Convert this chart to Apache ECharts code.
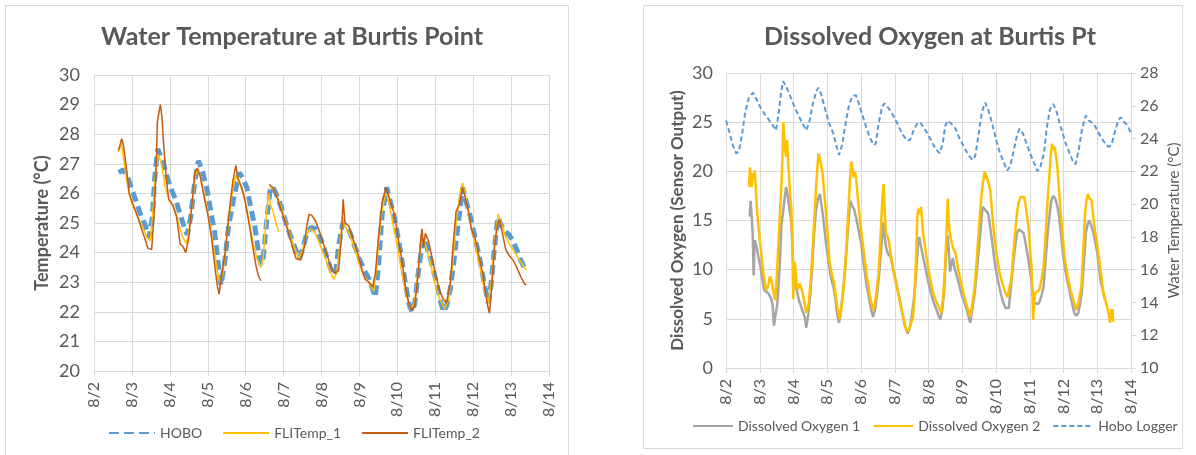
<!DOCTYPE html>
<html>
<head>
<meta charset="utf-8">
<script src="https://cdn.jsdelivr.net/npm/echarts@6/dist/echarts.min.js"></script>
<style>
html,body{margin:0;padding:0;background:#fff;}
#c{width:1196px;height:455px;}
</style>
</head>
<body>
<div id="c"></div>
<script>
// ---------- data ----------
const xTickLabels = ['8/2','8/3','8/4','8/5','8/6','8/7','8/8','8/9','8/10','8/11','8/12','8/13','8/14'];
// x values = day of August (fractional)
const hoboLeft = [[2.65,26.7],[2.78,26.8],[2.9,26.5],[3.01,26.1],[3.12,25.7],[3.21,25.35],[3.36,24.9],[3.45,24.5],[3.54,25.2],[3.6,26.5],[3.68,27.5],[3.81,27.1],[3.92,26.6],[4.02,26.2],[4.15,25.8],[4.27,25.3],[4.37,24.9],[4.46,24.6],[4.55,25.2],[4.64,26.2],[4.75,27.1],[4.85,26.8],[4.97,26.2],[5.08,25.4],[5.18,24.7],[5.27,23.7],[5.35,22.9],[5.45,23.7],[5.55,24.9],[5.68,25.8],[5.83,26.7],[5.93,26.5],[6.03,26.2],[6.14,25.5],[6.24,24.9],[6.33,24.1],[6.4,23.6],[6.46,23.8],[6.55,25.0],[6.65,26.2],[6.72,26.2],[6.8,26.0],[6.92,25.6],[7.04,25.1],[7.17,24.6],[7.29,24.2],[7.42,23.8],[7.5,24.1],[7.6,24.6],[7.72,24.85],[7.85,24.8],[7.97,24.5],[8.1,24.0],[8.2,23.6],[8.3,23.25],[8.38,23.4],[8.46,24.3],[8.56,25.0],[8.66,24.9],[8.76,24.65],[8.88,24.2],[9.01,23.75],[9.13,23.4],[9.26,23.1],[9.34,22.8],[9.42,22.5],[9.5,23.5],[9.6,25.3],[9.72,26.2],[9.82,25.7],[9.92,25.2],[10.02,24.5],[10.12,23.75],[10.22,22.9],[10.32,22.2],[10.4,22.0],[10.46,22.3],[10.55,23.3],[10.68,24.5],[10.75,24.3],[10.85,23.9],[10.95,23.4],[11.05,22.9],[11.15,22.3],[11.22,22.0],[11.3,22.2],[11.4,22.8],[11.5,23.8],[11.6,24.9],[11.72,26.2],[11.82,25.7],[11.93,25.2],[12.05,24.5],[12.18,23.75],[12.3,22.9],[12.4,22.3],[12.47,22.9],[12.55,24.0],[12.65,25.2],[12.75,24.9],[12.85,24.7],[12.95,24.6],[13.04,24.4],[13.15,24.1],[13.25,23.75],[13.35,23.5],[13.42,23.45]];
const fliTemp1 = [[2.64,27.4],[2.72,27.7],[2.8,27.0],[2.92,26.0],[3.02,25.6],[3.15,25.2],[3.3,24.8],[3.4,24.5],[3.48,24.4],[3.56,25.5],[3.63,26.8],[3.7,27.3],[3.78,27.0],[3.88,26.2],[3.98,25.8],[4.12,25.5],[4.25,24.9],[4.35,24.5],[4.44,24.3],[4.52,24.9],[4.62,26.0],[4.7,26.8],[4.8,26.6],[4.92,25.9],[5.05,25.0],[5.15,24.2],[5.25,23.4],[5.32,23.0],[5.4,23.3],[5.5,24.5],[5.62,25.8],[5.73,26.6],[5.85,26.3],[5.98,25.8],[6.1,25.0],[6.2,24.3],[6.3,23.8],[6.4,23.5],[6.46,23.8],[6.53,25.0],[6.6,26.0],[6.66,25.6],[6.72,25.4],[6.8,25.0],[6.87,24.7],[6.9,'-'],[6.62,26.2],[6.7,26.2],[6.8,26.0],[6.92,25.6],[7.04,25.1],[7.17,24.6],[7.28,24.2],[7.4,23.8],[7.5,24.1],[7.6,24.6],[7.7,24.8],[7.82,24.7],[7.95,24.3],[8.1,23.8],[8.22,23.4],[8.32,23.1],[8.4,23.3],[8.48,24.2],[8.56,25.2],[8.62,24.9],[8.75,24.6],[8.88,24.1],[9.0,23.6],[9.12,23.2],[9.25,23.0],[9.32,22.8],[9.38,22.7],[9.46,23.6],[9.57,25.2],[9.68,26.0],[9.75,25.9],[9.88,25.0],[10.0,24.2],[10.12,23.3],[10.25,22.5],[10.35,22.1],[10.45,22.3],[10.53,23.2],[10.63,24.3],[10.7,24.4],[10.78,24.1],[10.9,23.5],[11.02,22.8],[11.13,22.4],[11.25,22.1],[11.35,22.4],[11.45,23.5],[11.55,25.0],[11.65,26.0],[11.72,26.35],[11.8,25.9],[11.92,25.0],[12.05,24.3],[12.18,23.5],[12.3,22.7],[12.4,22.3],[12.48,23.0],[12.56,24.3],[12.66,25.3],[12.74,25.0],[12.84,24.6],[12.95,24.3],[13.1,24.0],[13.25,23.7],[13.4,23.4]];
const fliTemp2 = [[2.64,27.45],[2.68,27.6],[2.73,27.85],[2.78,27.6],[2.86,26.8],[2.93,26.0],[3.01,25.7],[3.1,25.4],[3.18,25.1],[3.28,24.7],[3.36,24.4],[3.42,24.15],[3.52,24.1],[3.58,25.2],[3.62,26.3],[3.65,27.3],[3.67,28.4],[3.72,28.8],[3.75,29.0],[3.79,28.6],[3.84,27.6],[3.9,26.6],[3.97,25.8],[4.08,25.6],[4.18,25.2],[4.27,24.3],[4.35,24.2],[4.42,24.0],[4.5,24.5],[4.58,25.6],[4.66,26.7],[4.72,26.85],[4.8,26.6],[4.9,25.9],[5.0,25.3],[5.1,24.5],[5.18,23.6],[5.25,22.9],[5.3,22.6],[5.36,23.2],[5.46,24.0],[5.56,25.3],[5.66,26.4],[5.74,26.95],[5.8,26.5],[5.9,26.2],[5.99,25.7],[6.1,24.9],[6.2,24.1],[6.28,23.5],[6.34,23.2],[6.4,23.05],[6.5,'-'],[6.62,26.3],[6.72,26.2],[6.82,25.9],[6.95,25.4],[7.05,25.0],[7.15,24.6],[7.25,24.1],[7.33,23.8],[7.45,23.75],[7.55,24.2],[7.6,24.8],[7.67,25.3],[7.75,25.25],[7.85,25.05],[7.95,24.7],[8.05,24.3],[8.15,23.9],[8.25,23.5],[8.35,23.3],[8.45,23.4],[8.52,24.4],[8.57,25.8],[8.62,25.0],[8.72,24.9],[8.82,24.5],[8.95,24.0],[9.05,23.5],[9.15,23.1],[9.25,23.0],[9.35,22.85],[9.42,23.3],[9.5,24.5],[9.6,25.7],[9.7,26.2],[9.8,25.8],[9.92,25.3],[10.02,24.5],[10.12,23.75],[10.22,22.8],[10.3,22.3],[10.38,22.05],[10.46,22.2],[10.55,23.3],[10.62,24.5],[10.65,24.8],[10.69,24.2],[10.74,24.65],[10.82,24.4],[10.92,23.8],[11.02,23.2],[11.12,22.7],[11.2,22.45],[11.3,22.3],[11.4,23.0],[11.48,24.4],[11.55,25.4],[11.63,25.6],[11.72,26.2],[11.8,25.8],[11.88,25.4],[11.95,24.8],[12.05,24.5],[12.15,23.9],[12.25,23.3],[12.33,22.6],[12.4,22.1],[12.43,21.95],[12.5,23.0],[12.57,24.3],[12.65,25.0],[12.7,25.1],[12.78,24.6],[12.86,24.1],[12.95,23.9],[13.05,23.75],[13.15,23.5],[13.25,23.2],[13.35,22.95],[13.4,22.9]];

const hoboRight = [[2.0,25.1],[2.1,24.4],[2.2,23.6],[2.3,23.1],[2.38,23.2],[2.47,24.2],[2.57,25.6],[2.68,26.5],[2.8,26.8],[2.9,26.4],[3.02,25.9],[3.14,25.5],[3.25,25.2],[3.36,24.9],[3.48,24.5],[3.56,25.5],[3.63,26.8],[3.69,27.5],[3.78,27.2],[3.9,26.6],[4.04,25.9],[4.15,25.4],[4.27,24.9],[4.38,24.5],[4.48,25.1],[4.58,26.2],[4.68,26.9],[4.74,27.1],[4.82,26.7],[4.95,25.7],[5.06,24.9],[5.18,24.3],[5.28,23.5],[5.35,23.0],[5.44,23.6],[5.54,24.9],[5.65,26.1],[5.75,26.6],[5.85,26.65],[5.94,26.1],[6.03,25.5],[6.14,24.8],[6.25,24.1],[6.38,23.6],[6.44,23.7],[6.52,24.9],[6.62,25.9],[6.7,26.15],[6.8,25.9],[6.93,25.5],[7.08,24.9],[7.22,24.3],[7.35,23.9],[7.45,23.9],[7.56,24.5],[7.66,24.9],[7.75,25.0],[7.85,24.7],[7.97,24.3],[8.1,23.8],[8.2,23.4],[8.33,23.1],[8.42,23.7],[8.5,24.8],[8.57,25.1],[8.68,24.9],[8.8,24.6],[8.92,24.0],[9.05,23.5],[9.18,23.0],[9.3,22.7],[9.38,22.9],[9.48,24.2],[9.58,25.6],[9.68,26.2],[9.78,25.7],[9.9,24.8],[10.02,23.8],[10.12,23.1],[10.22,22.6],[10.33,22.05],[10.42,22.3],[10.52,23.2],[10.62,24.2],[10.7,24.6],[10.8,24.3],[10.92,23.6],[11.03,23.0],[11.13,22.5],[11.23,22.0],[11.32,22.3],[11.42,23.1],[11.5,24.6],[11.6,25.8],[11.7,26.1],[11.8,25.6],[11.92,24.7],[12.05,23.8],[12.18,23.1],[12.3,22.5],[12.36,22.45],[12.45,23.3],[12.55,24.6],[12.66,25.4],[12.75,25.1],[12.9,24.9],[13.05,24.3],[13.2,23.8],[13.33,23.5],[13.42,23.6],[13.52,24.4],[13.62,25.1],[13.7,25.3],[13.8,25.0],[13.9,24.8],[14.0,24.3]];
const dissolvedOxygen1 = [[2.7,15.4],[2.73,17.0],[2.76,15.5],[2.79,13.7],[2.82,9.4],[2.85,13.0],[2.91,12.3],[2.96,11.3],[3.02,10.3],[3.08,9.0],[3.13,7.9],[3.25,7.6],[3.33,7.1],[3.38,6.5],[3.42,4.3],[3.47,5.5],[3.52,6.5],[3.59,10.3],[3.64,14.4],[3.68,15.5],[3.72,16.8],[3.78,18.4],[3.83,17.5],[3.87,16.4],[3.93,15.0],[3.97,12.0],[4.0,10.0],[4.07,8.3],[4.12,7.6],[4.16,6.9],[4.25,6.0],[4.33,5.2],[4.38,4.1],[4.44,5.5],[4.5,7.6],[4.56,10.5],[4.61,13.7],[4.66,15.8],[4.72,17.1],[4.78,17.7],[4.84,16.3],[4.89,15.0],[4.97,12.5],[5.06,10.3],[5.12,9.0],[5.18,8.3],[5.24,7.0],[5.29,5.6],[5.35,4.6],[5.41,6.0],[5.46,7.6],[5.52,9.8],[5.57,12.0],[5.63,14.8],[5.68,17.0],[5.74,16.5],[5.8,16.1],[5.86,15.2],[5.91,15.0],[6.0,12.8],[6.08,10.6],[6.16,8.5],[6.25,6.9],[6.31,5.8],[6.36,5.2],[6.42,6.0],[6.48,7.6],[6.54,9.6],[6.59,11.7],[6.63,13.5],[6.66,14.8],[6.7,13.4],[6.74,12.3],[6.8,11.6],[6.88,11.3],[6.96,10.0],[7.05,8.6],[7.14,7.1],[7.22,5.6],[7.3,4.3],[7.38,3.5],[7.44,4.0],[7.5,5.2],[7.56,6.8],[7.61,8.6],[7.66,11.0],[7.7,13.0],[7.73,13.3],[7.78,12.3],[7.84,11.3],[7.9,10.3],[7.98,9.0],[8.07,7.6],[8.16,6.6],[8.24,5.9],[8.3,5.3],[8.35,4.9],[8.41,6.0],[8.46,7.6],[8.52,11.7],[8.57,13.5],[8.61,11.5],[8.64,9.8],[8.68,10.5],[8.72,11.2],[8.77,10.2],[8.82,9.6],[8.9,8.6],[8.97,7.6],[9.05,6.8],[9.14,5.9],[9.2,5.0],[9.24,4.6],[9.3,6.0],[9.37,7.6],[9.43,9.8],[9.49,12.0],[9.55,14.3],[9.6,16.4],[9.65,16.6],[9.7,16.0],[9.77,15.7],[9.83,14.3],[9.88,13.0],[9.96,10.8],[10.05,9.0],[10.14,7.6],[10.22,6.6],[10.28,6.1],[10.38,6.1],[10.44,8.2],[10.5,10.3],[10.56,12.2],[10.62,13.7],[10.68,14.1],[10.75,13.9],[10.82,13.7],[10.89,12.4],[10.96,11.0],[11.02,9.6],[11.07,8.3],[11.12,6.5],[11.18,6.6],[11.25,6.5],[11.3,6.8],[11.36,7.5],[11.41,8.3],[11.47,11.0],[11.53,13.7],[11.59,15.6],[11.64,17.1],[11.7,17.5],[11.76,17.2],[11.82,16.4],[11.87,15.4],[11.93,13.5],[11.98,11.7],[12.06,9.8],[12.15,8.3],[12.24,6.8],[12.32,5.6],[12.38,5.3],[12.44,5.6],[12.49,6.5],[12.54,7.6],[12.6,10.5],[12.66,13.7],[12.72,14.7],[12.76,15.0],[12.82,14.5],[12.89,13.7],[12.95,12.6],[13.0,11.7],[13.06,10.0],[13.11,8.6],[13.16,8.0],[13.22,7.0]];
const dissolvedOxygen2 = [[2.68,18.4],[2.71,20.4],[2.74,19.0],[2.76,18.4],[2.79,19.8],[2.82,19.2],[2.85,20.1],[2.88,18.5],[2.91,16.4],[2.96,14.5],[3.0,13.0],[3.05,11.5],[3.11,9.6],[3.19,7.9],[3.25,8.3],[3.3,9.3],[3.34,9.0],[3.38,8.3],[3.45,6.9],[3.49,8.5],[3.53,11.0],[3.57,13.8],[3.61,16.4],[3.64,18.5],[3.67,21.1],[3.7,25.0],[3.73,23.2],[3.76,22.0],[3.78,21.5],[3.81,23.2],[3.84,21.0],[3.87,19.4],[3.9,17.5],[3.93,16.4],[3.96,13.7],[3.98,9.5],[3.99,7.0],[4.01,9.0],[4.04,10.8],[4.07,9.6],[4.1,8.3],[4.14,8.0],[4.18,8.6],[4.22,8.3],[4.27,7.6],[4.33,6.6],[4.38,5.6],[4.44,6.3],[4.5,8.5],[4.55,11.0],[4.61,14.8],[4.67,18.4],[4.71,20.5],[4.74,21.8],[4.8,21.0],[4.86,19.8],[4.92,17.5],[4.97,15.4],[5.02,13.2],[5.06,11.0],[5.13,9.6],[5.2,8.6],[5.25,7.5],[5.29,6.3],[5.34,5.5],[5.38,5.0],[5.45,7.0],[5.52,9.6],[5.58,13.0],[5.63,16.4],[5.67,19.0],[5.71,21.0],[5.75,20.2],[5.78,19.4],[5.82,20.0],[5.86,19.1],[5.9,17.5],[5.97,15.0],[6.04,13.0],[6.11,11.0],[6.18,9.2],[6.25,7.6],[6.31,6.6],[6.37,5.9],[6.44,7.2],[6.52,9.6],[6.58,13.5],[6.63,17.1],[6.67,18.7],[6.7,16.0],[6.74,13.7],[6.78,13.4],[6.82,13.0],[6.88,11.6],[6.93,10.3],[7.02,8.9],[7.1,7.6],[7.19,6.2],[7.27,4.9],[7.33,4.0],[7.39,3.7],[7.46,4.3],[7.54,5.2],[7.58,7.0],[7.61,9.3],[7.65,13.0],[7.67,15.4],[7.7,16.2],[7.73,15.7],[7.76,15.9],[7.78,16.4],[7.81,15.0],[7.84,13.7],[7.9,12.3],[7.95,11.0],[8.03,9.4],[8.12,7.9],[8.2,7.0],[8.29,6.3],[8.38,5.6],[8.44,7.5],[8.49,10.3],[8.53,13.5],[8.57,17.2],[8.6,15.0],[8.63,13.7],[8.66,13.2],[8.69,12.7],[8.74,12.1],[8.8,11.7],[8.88,10.0],[8.97,8.6],[9.05,7.4],[9.14,6.3],[9.2,5.6],[9.24,5.2],[9.3,6.5],[9.37,8.3],[9.44,11.5],[9.5,14.5],[9.54,16.4],[9.6,18.5],[9.66,20.0],[9.7,19.6],[9.73,19.4],[9.78,18.8],[9.83,18.1],[9.88,16.0],[9.94,13.7],[10.02,11.5],[10.11,9.6],[10.2,8.5],[10.28,7.6],[10.34,7.2],[10.39,7.1],[10.45,9.0],[10.5,11.0],[10.56,13.5],[10.62,15.7],[10.67,16.8],[10.73,17.4],[10.78,17.6],[10.84,17.4],[10.9,16.0],[10.96,14.4],[11.0,12.5],[11.05,10.3],[11.08,7.5],[11.1,4.9],[11.13,6.5],[11.16,7.6],[11.22,7.8],[11.28,7.9],[11.34,8.8],[11.41,10.3],[11.47,13.5],[11.53,17.1],[11.58,19.5],[11.62,21.5],[11.66,22.8],[11.7,22.2],[11.74,22.5],[11.78,21.5],[11.81,20.8],[11.86,18.5],[11.92,15.7],[11.98,13.2],[12.04,11.0],[12.12,9.4],[12.21,7.9],[12.3,6.8],[12.38,5.9],[12.45,6.8],[12.53,8.3],[12.58,11.5],[12.64,15.7],[12.68,17.0],[12.72,17.7],[12.77,17.2],[12.83,17.1],[12.88,15.5],[12.94,13.7],[13.0,12.5],[13.06,11.0],[13.12,9.3],[13.17,7.9],[13.23,7.0],[13.29,6.3],[13.34,5.5],[13.38,4.6],[13.41,6.0],[13.43,4.8],[13.45,6.0],[13.47,4.7]];

// ---------- chart ----------
const TXT = '#595959';
const GRIDC = '#d9d9d9';
const FONT = 'Lato, "Open Sans", sans-serif';
const chart = echarts.init(document.getElementById('c'), null, {renderer: 'canvas'});

function xAxisCfg(gridIndex){
  return {
    type: 'value', gridIndex, min: 2, max: 14, interval: 1,
    axisLine: {show: true, lineStyle: {color: GRIDC, width: 1}},
    axisTick: {show: true, length: 5, lineStyle: {color: GRIDC}},
    splitLine: {show: true, lineStyle: {color: GRIDC, width: 1}},
    axisLabel: {rotate: 90, color: TXT, fontSize: 16, fontFamily: FONT, margin: 11,
      formatter: v => xTickLabels[Math.round(v) - 2]}
  };
}

const legendText = {color: TXT, fontSize: 14, fontFamily: FONT};
const option = {
  animation: false,
  backgroundColor: '#fff',
  graphic: [
    {type: 'rect', shape: {x: 5.5, y: 5.5, width: 563, height: 460}, style: {fill: 'none', stroke: GRIDC, lineWidth: 1}, z: -10},
    {type: 'rect', shape: {x: 643.5, y: 5.5, width: 539, height: 443}, style: {fill: 'none', stroke: GRIDC, lineWidth: 1}, z: -10}
  ],
  title: [
    {text: 'Water Temperature at Burtis Point', left: 287, top: 19, textAlign: 'center',
     textStyle: {fontFamily: FONT, fontSize: 25, fontWeight: 'bold', color: TXT}},
    {text: 'Dissolved Oxygen at Burtis Pt', left: 925, top: 19, textAlign: 'center',
     textStyle: {fontFamily: FONT, fontSize: 25, fontWeight: 'bold', color: TXT}}
  ],
  legend: [
    {data: ['HOBO', 'FLITemp_1', 'FLITemp_2'], left: 103, top: 421, itemWidth: 46, itemHeight: 12, itemGap: 20,
     itemStyle: {opacity: 0}, textStyle: legendText},
    {data: ['Dissolved Oxygen 1', 'Dissolved Oxygen 2', 'Hobo Logger'], left: 687, top: 414, itemWidth: 40, itemHeight: 12, itemGap: 12,
     itemStyle: {opacity: 0}, textStyle: legendText}
  ],
  grid: [
    {left: 94, right: 647, top: 75, bottom: 84},
    {left: 726, right: 65, top: 73, bottom: 87}
  ],
  xAxis: [xAxisCfg(0), xAxisCfg(1)],
  yAxis: [
    {type: 'value', gridIndex: 0, min: 20, max: 30, interval: 1,
     name: 'Temperature (°C)', nameLocation: 'middle', nameGap: 43,
     nameTextStyle: {fontFamily: FONT, fontSize: 18, fontWeight: 'bold', color: TXT},
     axisLine: {show: false}, axisTick: {show: false},
     splitLine: {lineStyle: {color: GRIDC}},
     axisLabel: {color: TXT, fontSize: 18, fontFamily: FONT, margin: 14}},
    {type: 'value', gridIndex: 1, min: 0, max: 30, interval: 5,
     name: 'Dissolved Oxygen (Sensor Output)', nameLocation: 'middle', nameGap: 40,
     nameTextStyle: {fontFamily: FONT, fontSize: 17, fontWeight: 'bold', color: TXT},
     axisLine: {show: false}, axisTick: {show: false},
     splitLine: {lineStyle: {color: GRIDC}},
     axisLabel: {color: TXT, fontSize: 18, fontFamily: FONT, margin: 13}},
    {type: 'value', gridIndex: 1, min: 10, max: 28, interval: 2, position: 'right',
     name: 'Water Temperature (°C)', nameLocation: 'middle', nameGap: 36, nameRotate: 90,
     nameTextStyle: {fontFamily: FONT, fontSize: 15, color: TXT},
     axisLine: {show: true, lineStyle: {color: GRIDC}},
     axisTick: {show: true, length: 5, lineStyle: {color: GRIDC}},
     splitLine: {show: false},
     axisLabel: {color: TXT, fontSize: 16, fontFamily: FONT, margin: 9}}
  ],
  series: [
    {name: 'HOBO', type: 'line', xAxisIndex: 0, yAxisIndex: 0, data: hoboLeft, symbol: 'none',
     lineStyle: {color: '#5B9BD5', width: 5, type: [10, 5]}, itemStyle: {color: '#5B9BD5'}},
    {name: 'FLITemp_1', type: 'line', xAxisIndex: 0, yAxisIndex: 0, data: fliTemp1, symbol: 'none',
     lineStyle: {color: '#FFC000', width: 1.5}, itemStyle: {color: '#FFC000'}},
    {name: 'FLITemp_2', type: 'line', xAxisIndex: 0, yAxisIndex: 0, data: fliTemp2, symbol: 'none',
     lineStyle: {color: '#C55A11', width: 1.5}, itemStyle: {color: '#C55A11'}},
    {name: 'Dissolved Oxygen 1', type: 'line', xAxisIndex: 1, yAxisIndex: 1, data: dissolvedOxygen1, symbol: 'none',
     lineStyle: {color: '#A5A5A5', width: 2.5}, itemStyle: {color: '#A5A5A5'}},
    {name: 'Dissolved Oxygen 2', type: 'line', xAxisIndex: 1, yAxisIndex: 1, data: dissolvedOxygen2, symbol: 'none',
     lineStyle: {color: '#FFC000', width: 2.5}, itemStyle: {color: '#FFC000'}},
    {name: 'Hobo Logger', type: 'line', xAxisIndex: 1, yAxisIndex: 2, data: hoboRight, symbol: 'none',
     lineStyle: {color: '#5B9BD5', width: 2, type: [5, 3]}, itemStyle: {color: '#5B9BD5'}}
  ]
};
chart.setOption(option);
</script>
</body>
</html>
